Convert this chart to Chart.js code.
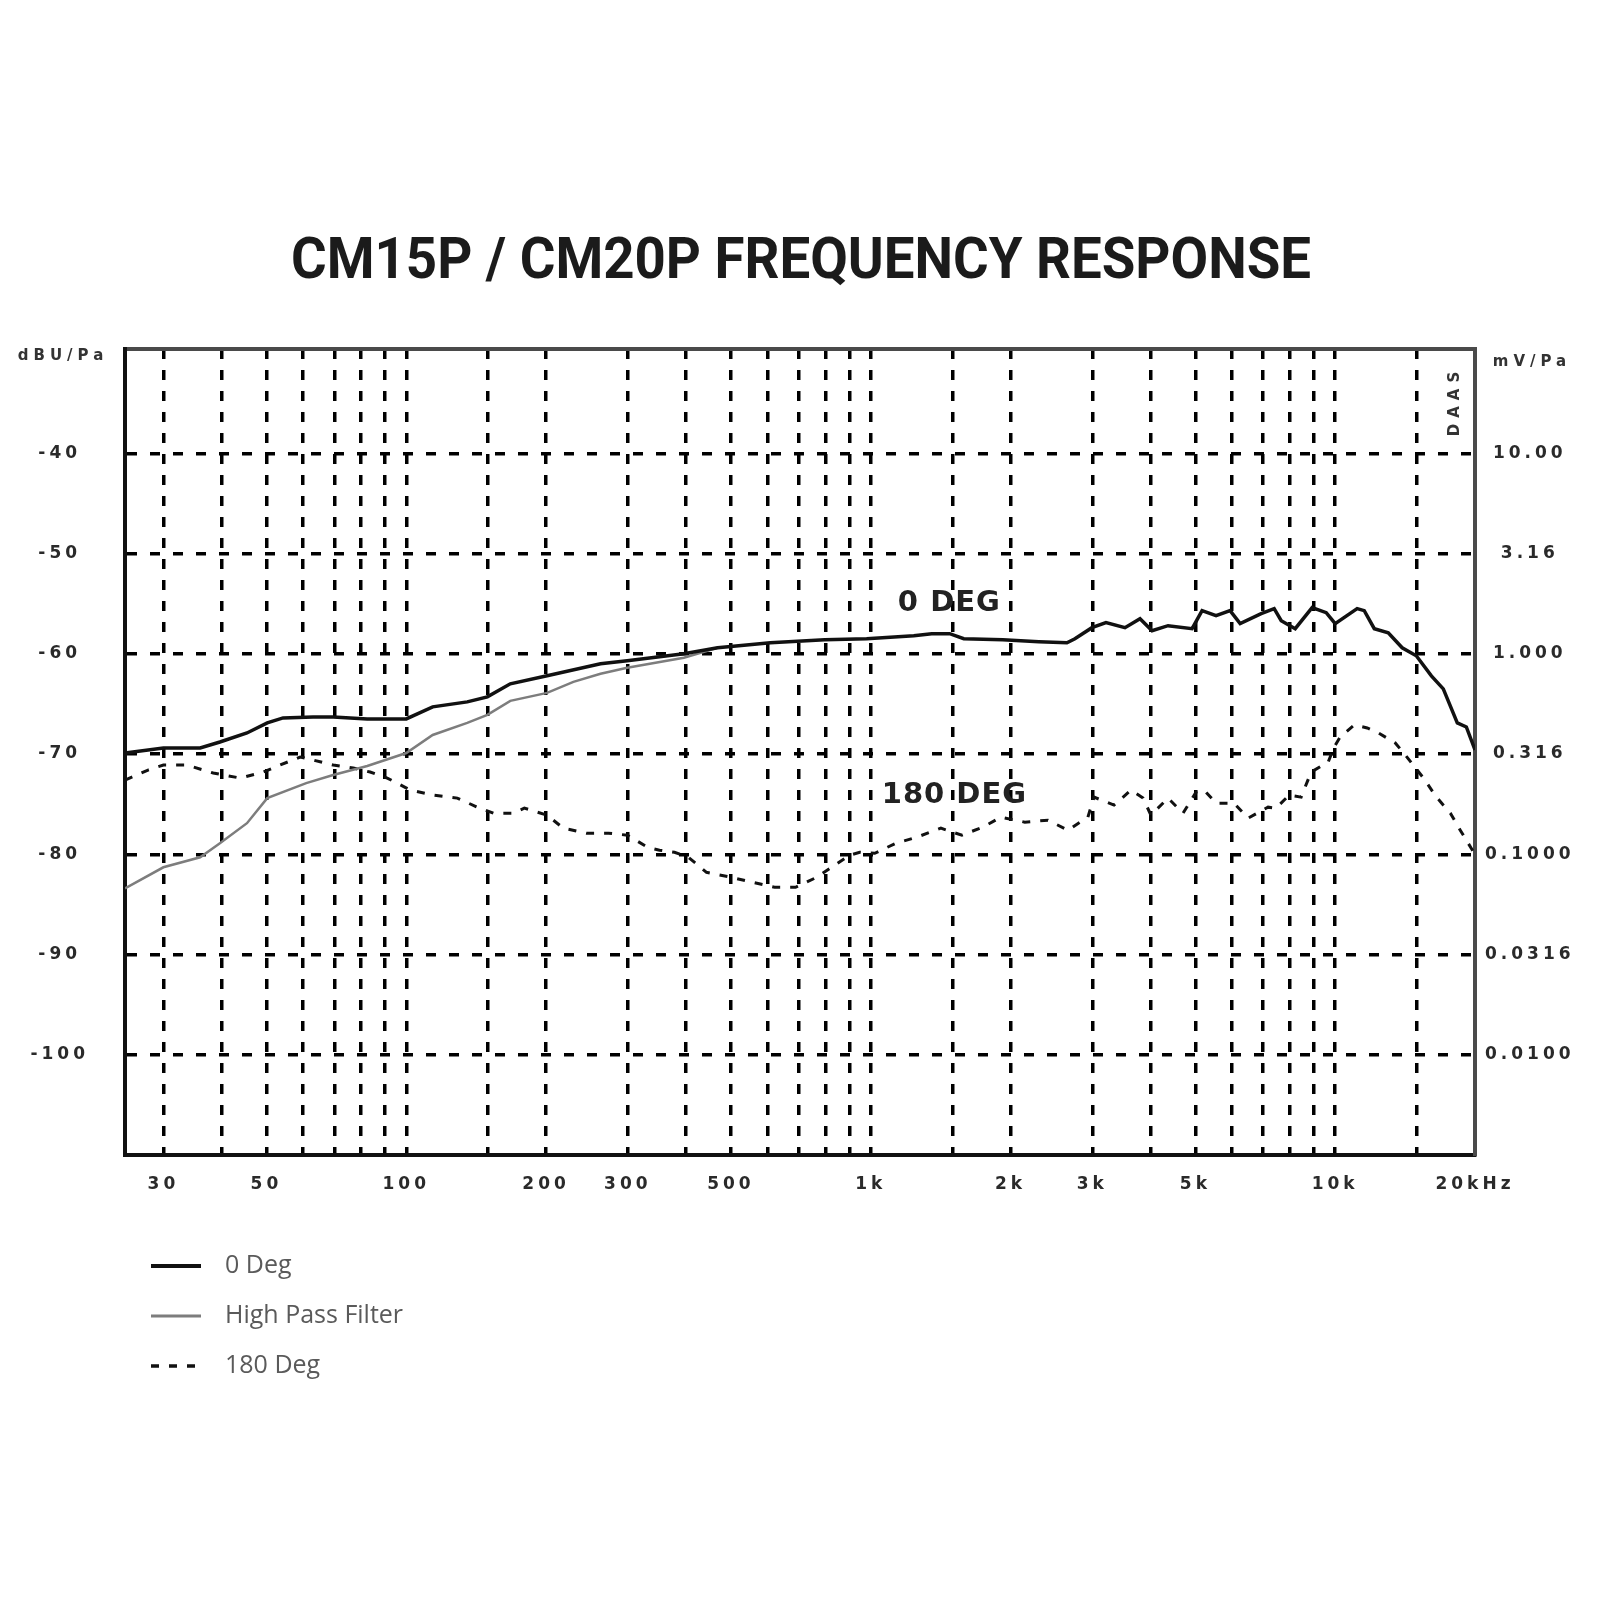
<!DOCTYPE html>
<html>
<head>
<meta charset="utf-8">
<title>CM15P / CM20P Frequency Response</title>
<script src="https://cdn.jsdelivr.net/npm/chart.js@4.4.0/dist/chart.umd.min.js"></script>
<style>
  html, body { margin: 0; padding: 0; background: #fff; }
  #wrap { width: 1600px; height: 1600px; }
</style>
</head>
<body>
<div id="wrap"><canvas id="chart" width="1600" height="1600"></canvas></div>
<script>
const chartTitle = 'CM15P / CM20P FREQUENCY RESPONSE';

// 0 Deg, solid black (Hz, dBU/Pa)
const deg0Freq = [24.8, 30, 36, 39.7, 45.4, 50.2, 54.3, 63, 69.6, 82.4, 100, 114, 135.3, 149.5, 167.5,
    201, 262, 299, 396, 468, 608, 796, 980, 1238, 1353, 1479, 1586, 1924, 2301, 2645, 2752, 2994, 3210, 3527,
    3800, 4034, 4367, 4920, 5169, 5540, 5939, 6243, 6929, 7390, 7653, 8203, 8920, 9565, 10000, 11150, 11550,
    12140, 13010, 13940, 14950, 16110, 17090, 18320, 19160, 20000];
const deg0Level = [-69.9, -69.4, -69.4, -68.8, -67.9, -66.9, -66.4, -66.3, -66.3, -66.5, -66.5, -65.3, -64.8, -64.3, -63.0,
    -62.2, -61.0, -60.7, -60.0, -59.4, -58.9, -58.6, -58.5, -58.2, -58.0, -58.0, -58.5, -58.6, -58.8, -58.9, -58.5, -57.4, -56.9, -57.4,
    -56.5, -57.7, -57.2, -57.5, -55.7, -56.2, -55.7, -57.0, -56.0, -55.5, -56.7, -57.5, -55.4, -55.9, -57.0, -55.5, -55.7,
    -57.5, -57.9, -59.4, -60.2, -62.2, -63.5, -66.9, -67.3, -69.6];

// High Pass Filter, grey (joins the 0 Deg curve near 500 Hz)
const hpfFreq = [24.8, 30, 36, 39.7, 45.4, 50.2, 60.9, 69.6, 82.4, 100, 114, 135.3, 149.5, 167.5, 201, 229, 262, 299, 396, 468];
const hpfLevel = [-83.4, -81.3, -80.3, -78.9, -76.9, -74.4, -72.9, -72.1, -71.2, -69.9, -68.1, -66.9, -66.1, -64.7, -63.9, -62.8, -62.0, -61.4, -60.4, -59.4];

// 180 Deg, dashed black
const deg180Freq = [24.8, 27.8, 30, 33.7, 38.4, 43.9, 49.2, 53.5, 59.1, 63, 69.6, 76.9, 83.6, 91, 95.6, 102, 114.3, 128.8,
    142.2, 154, 170.1, 179.6, 201, 217.9, 244.2, 272.5, 299.5, 330.6, 351, 378, 405, 443, 501, 557, 621, 689, 765, 836,
    901, 947, 1020, 1133, 1257, 1416, 1571, 1743, 1906, 2147, 2407, 2658, 2935, 3024, 3340, 3634, 3857, 4012, 4366,
    4704, 5017, 5221, 5540, 6057, 6494, 7171, 7461, 7959, 8447, 8877, 9659, 9950, 10250, 10990, 11720, 12390, 13470, 14160,
    15490, 16520, 17700, 18590, 19630, 20000];
const deg180Level = [-72.6, -71.6, -71.1, -71.1, -71.9, -72.4, -71.8, -71.1, -70.3, -70.6, -71.1, -71.4, -71.8, -72.4, -72.9, -73.6, -74.1, -74.4,
    -75.3, -75.9, -75.9, -75.4, -76.1, -77.4, -77.9, -77.9, -78.1, -79.3, -79.6, -79.8, -80.3, -81.8, -82.3, -82.8, -83.3, -83.3, -82.3, -81.1,
    -80.1, -79.8, -79.9, -78.9, -78.3, -77.4, -78.1, -77.3, -76.3, -76.8, -76.6, -77.6, -76.3, -74.3, -75.1, -73.6, -74.4, -76.1, -74.4,
    -75.9, -73.8, -73.6, -74.9, -74.9, -76.4, -75.3, -75.4, -74.1, -74.3, -71.8, -70.8, -69.3, -68.3, -67.1, -67.4, -67.9, -68.9, -70.1,
    -72.4, -74.3, -75.9, -77.6, -79.4, -80.0];

// axes
const xTickValues = [30, 40, 50, 60, 70, 80, 90, 100, 150, 200, 300, 400, 500, 600, 700, 800, 900,
    1000, 1500, 2000, 3000, 4000, 5000, 6000, 7000, 8000, 9000, 10000, 15000, 20000];
const xTickLabels = ['30', '', '50', '', '', '', '', '100', '', '200', '300', '', '500', '', '', '', '',
    '1k', '', '2k', '3k', '', '5k', '', '', '', '', '10k', '', '20kHz'];
const yTickValues = [-100, -90, -80, -70, -60, -50, -40];
const yTickLabels = ['-100', '-90', '-80', '-70', '-60', '-50', '-40'];
const yRightTickLabels = ['0.0100', '0.0316', '0.1000', '0.316', '1.000', '3.16', '10.00'];

const legendLabels = ['0 Deg', 'High Pass Filter', '180 Deg'];
const curveNotes = ['0 DEG', '180 DEG'];
const curveNoteFreq = [1144, 1056];
const curveNoteLevel = [-55.7, -74.9];

const toPoints = (xs, ys) => xs.map((x, i) => ({ x: x, y: ys[i] }));
const tickFont = { family: '"DejaVu Sans", sans-serif', size: 17, weight: 'bold' };

// tick labels in the scan are wide and spaced out
const spacedTicks = {
    id: 'spacedTicks',
    beforeDraw(chart) { chart.ctx.letterSpacing = '4px'; },
    beforeDatasetsDraw(chart) { chart.ctx.letterSpacing = '0px'; }
};

const extraText = {
    id: 'extraText',
    afterDraw(chart) {
        const { ctx, chartArea, scales } = chart;
        ctx.save();
        ctx.letterSpacing = '0px';

        // heading, stretched to the printed width
        ctx.font = 'bold 57px Roboto, "Liberation Sans", sans-serif';
        ctx.fillStyle = '#1b1b1b';
        ctx.textAlign = 'left';
        ctx.textBaseline = 'alphabetic';
        const tw = ctx.measureText(chartTitle).width;
        ctx.save();
        ctx.translate(291, 278);
        ctx.scale(1020 / tw, 1);
        ctx.fillText(chartTitle, 0, 0);
        ctx.restore();

        // unit labels above the two axes
        ctx.font = 'bold 15px "DejaVu Sans", sans-serif';
        ctx.fillStyle = '#333';
        ctx.letterSpacing = '5px';
        ctx.textAlign = 'center';
        ctx.textBaseline = 'middle';
        ctx.fillText('dBU/Pa', 63, 356);
        ctx.fillText('mV/Pa', 1532, 362);

        ctx.save();
        ctx.font = 'bold 15px "DejaVu Sans", sans-serif';
        ctx.letterSpacing = '6px';
        ctx.translate(chartArea.right - 20, chartArea.top + 52);
        ctx.rotate(-Math.PI / 2);
        ctx.fillText('DAAS', 0, 0);
        ctx.restore();

        // curve names inside the plot
        ctx.font = 'bold 29px "DejaVu Sans", sans-serif';
        ctx.letterSpacing = '1px';
        ctx.fillStyle = '#222';
        ctx.textAlign = 'left';
        ctx.textBaseline = 'alphabetic';
        curveNotes.forEach((txt, i) => {
            ctx.fillText(txt, scales.x.getPixelForValue(curveNoteFreq[i]), scales.y.getPixelForValue(curveNoteLevel[i]));
        });
        ctx.letterSpacing = '0px';

        // legend below the chart
        ctx.font = '25px "Open Sans", sans-serif';
        ctx.textBaseline = 'middle';
        chart.data.datasets.forEach((ds, i) => {
            const y = 1266 + i * 50;
            ctx.save();
            ctx.strokeStyle = ds.borderColor;
            ctx.lineWidth = ds.borderWidth + 0.5;
            ctx.setLineDash(ds.borderDash || []);
            ctx.beginPath();
            ctx.moveTo(151, y);
            ctx.lineTo(201, y);
            ctx.stroke();
            ctx.restore();
            ctx.fillStyle = '#5a5a5a';
            ctx.fillText(legendLabels[i], 225, y);
        });
        ctx.restore();
    }
};

const fixTicks = (values) => (scale) => {
    scale.ticks = values.map(v => ({ value: v }));
};

new Chart(document.getElementById('chart'), {
    type: 'line',
    data: {
        datasets: [
            {
                label: legendLabels[0],
                data: toPoints(deg0Freq, deg0Level),
                borderColor: '#111',
                borderWidth: 3.5
            },
            {
                label: legendLabels[1],
                data: toPoints(hpfFreq, hpfLevel),
                borderColor: '#7d7d7d',
                borderWidth: 2.5
            },
            {
                label: legendLabels[2],
                data: toPoints(deg180Freq, deg180Level),
                borderColor: '#111',
                borderWidth: 3,
                borderDash: [8, 10]
            }
        ]
    },
    options: {
        responsive: false,
        animation: false,
        devicePixelRatio: 1,
        layout: { padding: { top: 349, left: 0, right: 0, bottom: 375 } },
        elements: { point: { radius: 0 }, line: { tension: 0 } },
        plugins: {
            legend: { display: false },
            title: { display: false },
            tooltip: { enabled: false }
        },
        scales: {
            x: {
                type: 'logarithmic',
                position: 'bottom',
                min: 24.8,
                max: 20000,
                afterBuildTicks: fixTicks(xTickValues),
                afterFit: (scale) => { scale.height = 70; },
                grid: {
                    color: (c) => (c.tick && c.tick.value === 20000) ? 'rgba(0,0,0,0)' : '#000',
                    lineWidth: 3.5,
                    drawTicks: false
                },
                border: { display: true, color: '#111', width: 4, dash: [10, 11] },
                ticks: {
                    autoSkip: false,
                    maxRotation: 0,
                    padding: 19,
                    color: '#2a2a2a',
                    font: tickFont,
                    callback: (value) => xTickLabels[xTickValues.indexOf(value)] || ''
                }
            },
            xTop: {
                type: 'logarithmic',
                position: 'top',
                min: 24.8,
                max: 20000,
                afterFit: (scale) => { scale.height = 0; },
                grid: { drawOnChartArea: false, drawTicks: false },
                border: { display: true, color: '#4a4a4a', width: 4 },
                ticks: { display: false }
            },
            y: {
                type: 'linear',
                position: 'left',
                min: -110,
                max: -29.6,
                afterBuildTicks: fixTicks(yTickValues),
                afterFit: (scale) => { scale.width = 125; },
                grid: { color: '#000', lineWidth: 3.5, drawTicks: false },
                border: { display: true, color: '#111', width: 4, dash: [10, 13] },
                ticks: {
                    crossAlign: 'center',
                    padding: 44,
                    color: '#2a2a2a',
                    font: tickFont,
                    callback: (value) => yTickLabels[yTickValues.indexOf(value)] || ''
                }
            },
            yRight: {
                type: 'linear',
                position: 'right',
                min: -110,
                max: -29.6,
                afterBuildTicks: fixTicks(yTickValues),
                afterFit: (scale) => { scale.width = 125; },
                grid: { drawOnChartArea: false, drawTicks: false },
                border: { display: true, color: '#4a4a4a', width: 4 },
                ticks: {
                    crossAlign: 'center',
                    padding: 22,
                    color: '#2a2a2a',
                    font: tickFont,
                    callback: (value) => yRightTickLabels[yTickValues.indexOf(value)] || ''
                }
            }
        }
    },
    plugins: [spacedTicks, extraText]
});
</script>
</body>
</html>
